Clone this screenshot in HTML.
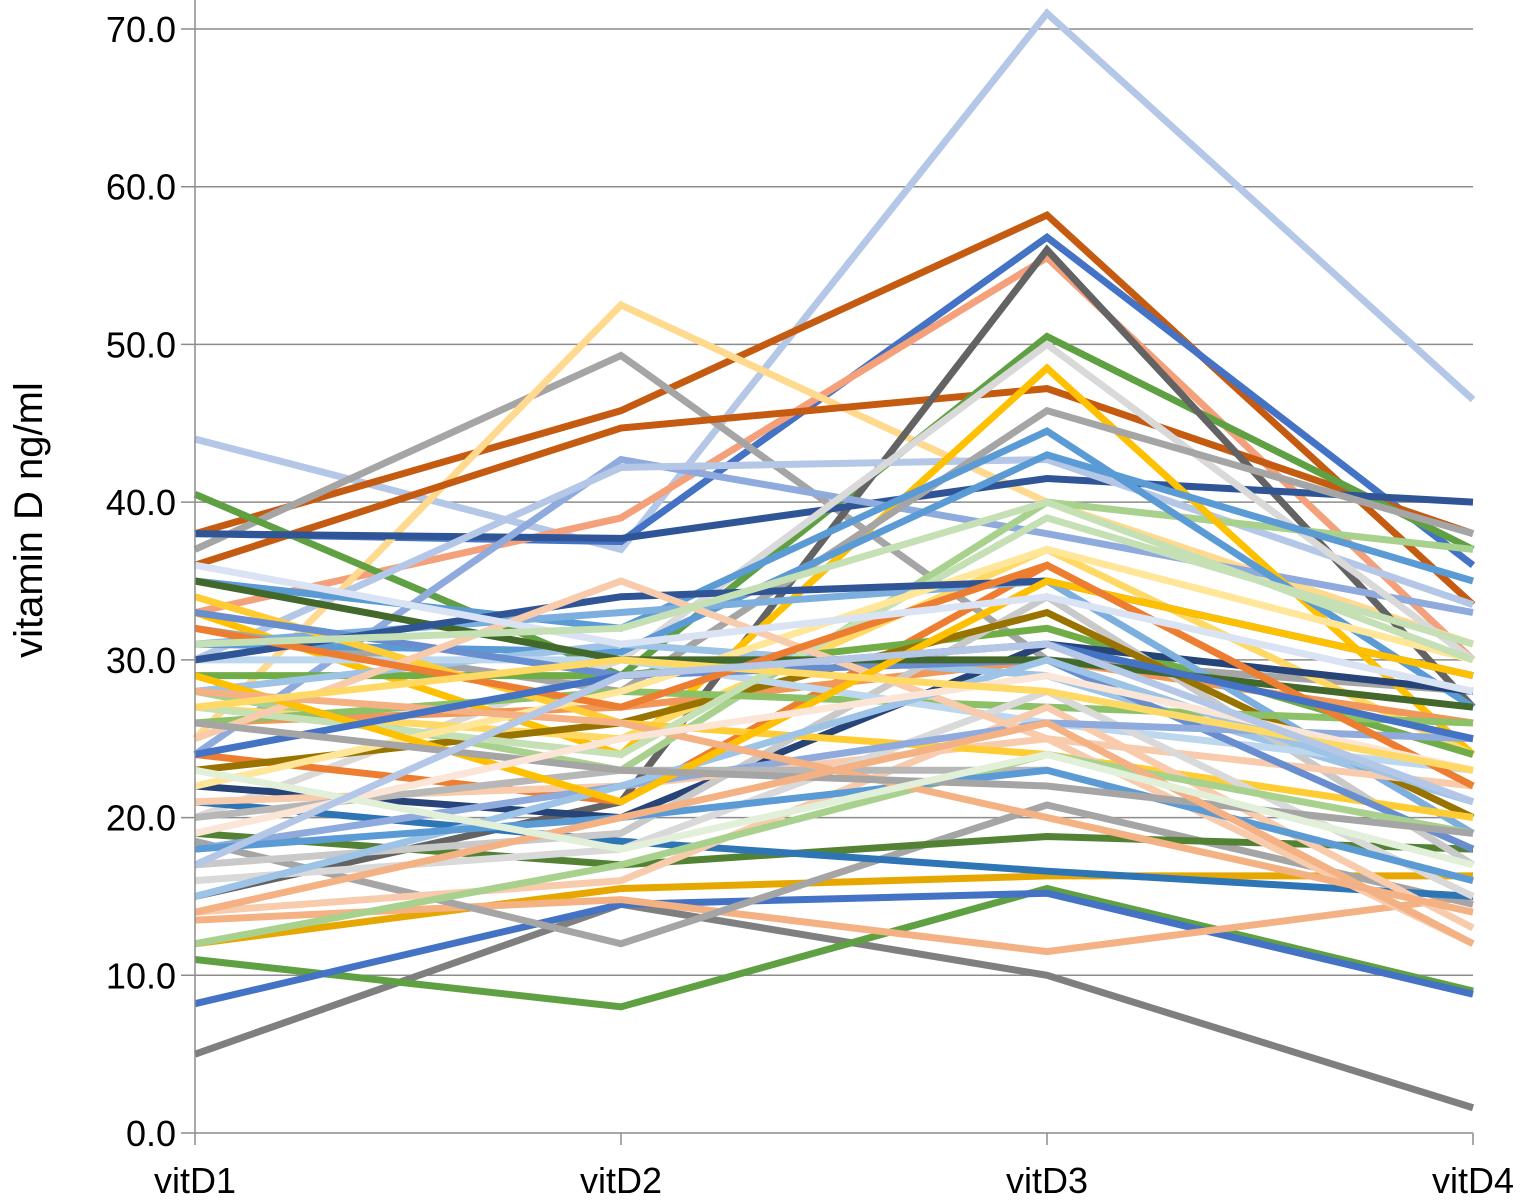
<!DOCTYPE html>
<html><head><meta charset="utf-8"><style>
html,body{margin:0;padding:0;background:#fff;}
svg{display:block;font-family:"Liberation Sans",Arial,sans-serif;}
</style></head><body>
<svg id="chart" width="1527" height="1202" viewBox="0 0 1527 1202">
<g id="grid"></g>
<g id="lines"></g>
<g id="axes"></g>
<text transform="translate(42,520) rotate(-90)" text-anchor="middle" font-size="40" fill="#000">vitamin D ng/ml</text>
</svg>
<script>
const categories = ["vitD1","vitD2","vitD3","vitD4"];
const yTicks = [0,10,20,30,40,50,60,70];
const yTickLabels = ["0.0","10.0","20.0","30.0","40.0","50.0","60.0","70.0"];
const series = [
[44,37,71,46.5],[5,14.5,10,1.6],[11,8,15.5,9],[8.2,14.5,15.2,8.8],
[38,45.8,58.2,33.5],[38,37.5,56.8,36],[33,39,55.5,30],[37,49.3,30,28],
[25,52.5,40,31],[36,44.7,47.2,38],[40.5,29,50.5,37],[15,21,56,27],
[38,37.7,41.5,40],[24,42.7,38,33],[30,42.2,42.7,33.5],[20,30,50,30],
[12,15.5,16.3,16.3],[13.5,14.8,11.5,15],[18.5,12,20.8,14.5],[19,17,18.8,18],
[21,18.5,16.6,15],[28,23,40,37],[33,24,48.5,24],[32,28,45.8,38],
[35,32,44.5,27],[31,30.5,43,35],[27,25,37,24],[24,21,36,22],
[29,29,32,24],[22,20,31,28],[26,27,30,26],[28,31,29,21],
[31,33,35,19],[17,19,34,17],[23,26,33,20],[26,28,27,26],
[30,30,26,23],[21,22,25,22],[34,26,24,20],[33,29,30,18],
[16,18,28,15],[14,16,27,13],[18,22,26,25],[27,24,39,31],
[22,28,37,30],[20,23,23,16],[35,30,30,27],[30,34,35,29],
[25,35,25,12],[15,22,30,21],[29,21,35,29],[32,27,36,22],
[12,17,24,19],[18,20,23,16],[28,26,20,14],[24,29,31,25],
[36,31,34,28],[26,23,22,19],[19,25,29,23],[31,32,40,30],
[14,20,26,12],[23,18,24,17],[27,30,28,23],[17,29,31,21]
];
const colors = ["#B4C7E7","#7F7F7F","#5FA042","#4472C4","#C55A11","#4472C4","#F4A07A","#A5A5A5",
"#FFD98E","#C55A11","#5FA042","#636363","#2F5597","#8FAADC","#B4C7E7","#D9D9D9",
"#E6A800","#F4B183","#A5A5A5","#548235","#2E75B6","#A9D18E","#FFC000","#A5A5A5",
"#5B9BD5","#5B9BD5","#FFD966","#ED7D31","#70AD47","#264478","#F1975A","#9DC3E6",
"#7CAFDD","#C9C9C9","#997300","#8CC168","#BDD7EE","#F8CBAD","#FFCD33","#698ED0",
"#D9D9D9","#F8CBAD","#8FAADC","#C5E0B4","#FFE699","#B7B7B7","#43682B","#2F5597",
"#F8CBAD","#9DC3E6","#FFC000","#ED7D31","#A9D18E","#5B9BD5","#F4B183","#4472C4",
"#DAE3F3","#A5A5A5","#FBE5D6","#C5E0B4","#F4B183","#E2F0D9","#FFD966","#B4C7E7"];
const NS="http://www.w3.org/2000/svg";
const x0=195,x1=1473,y0=1133,yTop=29;
function xScale(i){return x0+i*(x1-x0)/(categories.length-1);}
function yScale(v){return y0-(v/70)*(y0-yTop);}
const grid=document.getElementById('grid'),axes=document.getElementById('axes'),lines=document.getElementById('lines');
yTicks.forEach((t,i)=>{
  if(t>0){const l=document.createElementNS(NS,'line');
  
  
  l.setAttribute('x1',x0-14);l.setAttribute('x2',x1);l.setAttribute('y1',yScale(t));l.setAttribute('y2',yScale(t));
  l.setAttribute('stroke','#8c8c8c');l.setAttribute('stroke-width','1.5');grid.appendChild(l);}
  const tx=document.createElementNS(NS,'text');
  
  
  tx.setAttribute('x',176);tx.setAttribute('y',yScale(t)+13);tx.setAttribute('text-anchor','end');
  tx.setAttribute('font-size','36');tx.textContent=yTickLabels[i];axes.appendChild(tx);
});
series.forEach((s,k)=>{
  const p=document.createElementNS(NS,'polyline');
  
  
  p.setAttribute('points',s.map((v,i)=>xScale(i)+','+yScale(v)).join(' '));
  p.setAttribute('fill','none');p.setAttribute('stroke',colors[k%colors.length]);
  p.setAttribute('stroke-width','7');p.setAttribute('stroke-linejoin','miter');
  lines.appendChild(p);
});
const ya=document.createElementNS(NS,'line');


ya.setAttribute('x1',x0);ya.setAttribute('x2',x0);ya.setAttribute('y1',0);ya.setAttribute('y2',y0);
ya.setAttribute('stroke','#8c8c8c');ya.setAttribute('stroke-width','1.5');axes.appendChild(ya);
const xa=document.createElementNS(NS,'line');


xa.setAttribute('x1',x0-14);xa.setAttribute('x2',x1);xa.setAttribute('y1',y0);xa.setAttribute('y2',y0);
xa.setAttribute('stroke','#8c8c8c');xa.setAttribute('stroke-width','1.5');axes.appendChild(xa);
categories.forEach((c,i)=>{
  const tk=document.createElementNS(NS,'line');
  
  
  tk.setAttribute('x1',xScale(i));tk.setAttribute('x2',xScale(i));tk.setAttribute('y1',y0);tk.setAttribute('y2',y0+12);
  tk.setAttribute('stroke','#8c8c8c');tk.setAttribute('stroke-width','1.5');axes.appendChild(tk);
  const t=document.createElementNS(NS,'text');
  
  
  t.setAttribute('x',xScale(i));t.setAttribute('y',1193);t.setAttribute('text-anchor','middle');
  t.setAttribute('font-size','36');t.textContent=c;axes.appendChild(t);
});
</script>
</body></html>
